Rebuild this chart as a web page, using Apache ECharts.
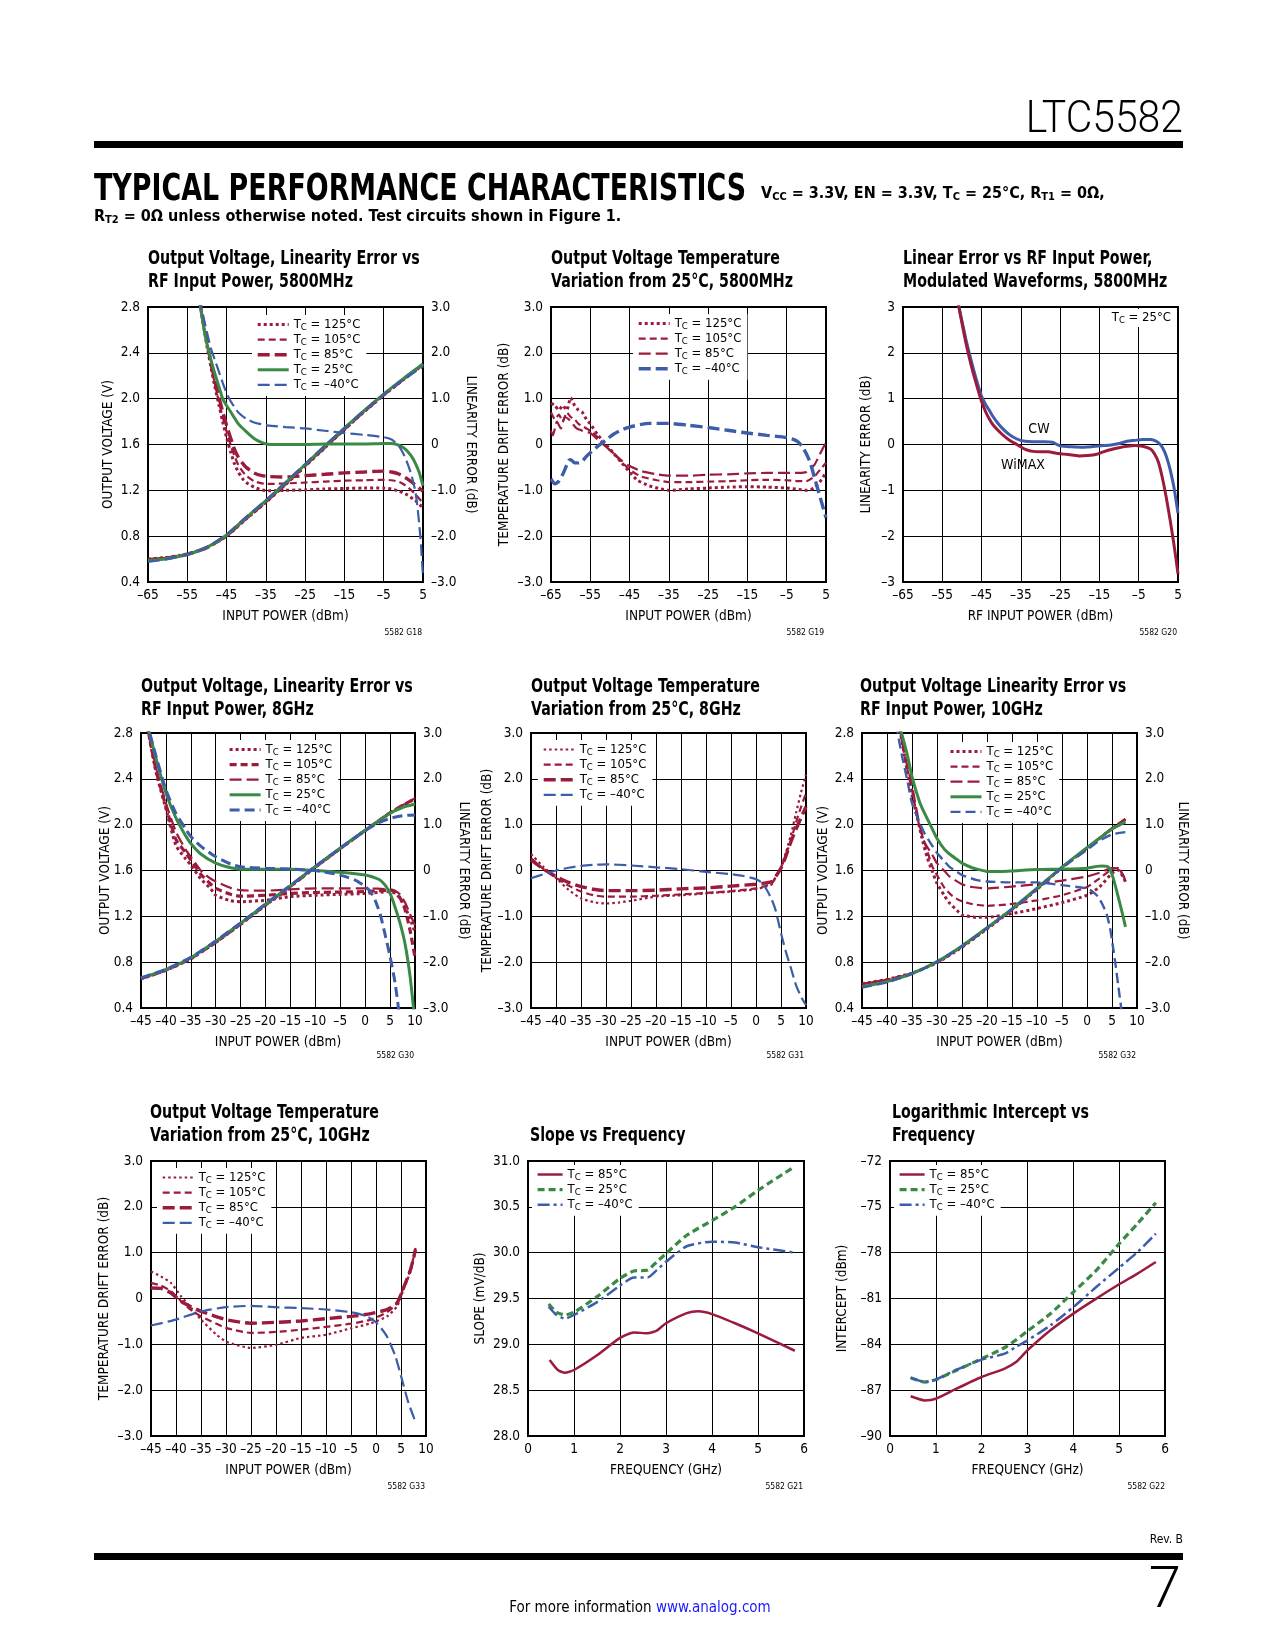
<!DOCTYPE html>
<html><head><meta charset="utf-8">
<script src="https://cdn.jsdelivr.net/npm/echarts@6/dist/echarts.min.js"></script>
<style>html,body{margin:0;padding:0;background:#fff}#page{width:1275px;height:1650px}</style>
</head><body><div id="page"></div>
<script>
// ---------------- DATA ----------------
// Chart 1: 5800MHz output voltage (left axis) and linearity error (right axis)
const c1_vx = [-65,-60,-55,-50,-45,-40,-35,-30,-25,-20,-15,-10,-5,0,5];
const c1_v125 = [0.600,0.615,0.645,0.700,0.800,0.950,1.095,1.250,1.410,1.570,1.730,1.885,2.030,2.165,2.295];
const c1_v105 = [0.598,0.613,0.643,0.700,0.802,0.953,1.098,1.254,1.414,1.574,1.733,1.888,2.033,2.168,2.298];
const c1_v85  = [0.595,0.610,0.642,0.700,0.805,0.956,1.102,1.258,1.418,1.578,1.736,1.890,2.036,2.170,2.300];
const c1_v25  = [0.585,0.605,0.640,0.702,0.810,0.962,1.110,1.265,1.425,1.585,1.742,1.895,2.040,2.175,2.302];
const c1_vm40 = [0.575,0.600,0.640,0.705,0.815,0.968,1.115,1.270,1.430,1.590,1.745,1.895,2.035,2.165,2.280];
const c1_e125 = [[-52,3.2],[-50,2.15],[-49,1.7],[-48,1.27],[-47,0.88],[-46,0.5],[-45,0.15],[-44,-0.15],[-43,-0.42],[-42,-0.6],[-41,-0.74],[-40,-0.83],[-38,-0.93],[-36,-0.99],[-34,-1.01],[-30,-1.0],[-25,-0.99],[-20,-0.97],[-15,-0.96],[-10,-0.95],[-5,-0.95],[-3,-0.97],[-1,-1.02],[1,-1.1],[3,-1.22],[5,-1.38]];
const c1_e105 = [[-52,3.2],[-50,2.2],[-49,1.75],[-48,1.33],[-47,0.95],[-46,0.6],[-45,0.28],[-44,0.0],[-43,-0.25],[-42,-0.45],[-41,-0.58],[-40,-0.68],[-38,-0.8],[-36,-0.85],[-34,-0.86],[-30,-0.85],[-25,-0.83],[-20,-0.81],[-15,-0.79],[-10,-0.78],[-5,-0.77],[-3,-0.78],[-1,-0.82],[1,-0.92],[3,-1.08],[5,-1.28]];
const c1_e85  = [[-52,3.2],[-50,2.25],[-49,1.8],[-48,1.4],[-47,1.05],[-46,0.72],[-45,0.42],[-44,0.15],[-43,-0.1],[-42,-0.28],[-41,-0.4],[-40,-0.5],[-38,-0.62],[-36,-0.68],[-34,-0.7],[-31,-0.71],[-28,-0.7],[-25,-0.68],[-20,-0.65],[-15,-0.62],[-10,-0.6],[-5,-0.58],[-3,-0.6],[-1,-0.65],[1,-0.75],[3,-0.88],[5,-1.02]];
const c1_e25  = [[-52,3.2],[-50.5,2.4],[-49,1.85],[-48,1.55],[-47,1.28],[-46,1.0],[-45,0.85],[-44,0.72],[-43,0.58],[-42,0.45],[-40,0.28],[-38,0.13],[-36,0.04],[-34,0.0],[-30,0.0],[-25,0.0],[-20,0.01],[-15,0.01],[-10,0.01],[-5,0.02],[-3,0.02],[-1,-0.02],[0.5,-0.1],[2,-0.25],[3,-0.4],[4,-0.6],[5,-0.9]];
const c1_em40 = [[-52,3.2],[-50,2.45],[-49,2.1],[-48,1.85],[-47,1.6],[-46,1.35],[-45,1.12],[-44,0.95],[-43,0.82],[-42,0.7],[-40,0.56],[-38,0.48],[-36,0.44],[-34,0.41],[-30,0.38],[-25,0.35],[-20,0.3],[-15,0.25],[-10,0.21],[-5,0.16],[-3,0.11],[-2,0.04],[-1,-0.05],[0,-0.2],[1,-0.4],[2,-0.65],[3,-1.0],[3.5,-1.3],[4,-1.7],[4.5,-2.2],[5,-2.9]];

// Chart 2: temperature drift, 5800MHz
const c2_125 = [[-65,0.9],[-64,0.85],[-63,0.75],[-62,0.85],[-61,0.75],[-60,1.02],[-59,0.85],[-58,0.75],[-57,0.7],[-56,0.55],[-55,0.45],[-53,0.2],[-51,0.0],[-49,-0.2],[-47,-0.4],[-45,-0.6],[-43,-0.78],[-40,-0.9],[-37,-0.97],[-35,-1.0],[-30,-0.97],[-25,-0.95],[-20,-0.93],[-15,-0.92],[-10,-0.93],[-5,-0.95],[-2,-0.98],[0,-1.0],[2,-0.95],[4,-0.75],[5,-0.6]];
const c2_105 = [[-65,0.7],[-64,0.55],[-63,0.65],[-62,0.5],[-61,0.7],[-60,0.6],[-59,0.55],[-58,0.45],[-57,0.4],[-55,0.3],[-53,0.15],[-51,-0.05],[-49,-0.2],[-47,-0.38],[-45,-0.55],[-42,-0.7],[-38,-0.78],[-35,-0.82],[-30,-0.82],[-25,-0.81],[-20,-0.8],[-15,-0.78],[-10,-0.77],[-5,-0.78],[-2,-0.8],[0,-0.8],[2,-0.7],[4,-0.5],[5,-0.4]];
const c2_85 = [[-65,0.3],[-64.5,0.2],[-63.5,0.5],[-62.5,0.35],[-61.5,0.6],[-60.5,0.55],[-59.5,0.45],[-58.5,0.35],[-57,0.3],[-55,0.25],[-53,0.1],[-51,-0.05],[-49,-0.2],[-47,-0.35],[-45,-0.47],[-42,-0.58],[-38,-0.65],[-35,-0.68],[-30,-0.68],[-25,-0.66],[-20,-0.65],[-15,-0.63],[-10,-0.62],[-5,-0.62],[-2,-0.62],[0,-0.6],[2,-0.45],[3.5,-0.2],[5,0.05]];
const c2_m40 = [[-65,-0.75],[-64,-0.86],[-63,-0.8],[-62,-0.65],[-61,-0.45],[-60.5,-0.35],[-60,-0.33],[-59,-0.4],[-58,-0.4],[-57,-0.36],[-56,-0.26],[-55,-0.18],[-53,-0.03],[-51,0.1],[-49,0.23],[-47,0.32],[-45,0.38],[-42,0.44],[-40,0.46],[-35,0.46],[-30,0.42],[-25,0.37],[-20,0.31],[-15,0.25],[-10,0.2],[-5,0.15],[-3,0.1],[-2,0.05],[-1,-0.05],[0,-0.2],[1,-0.4],[2,-0.7],[3,-1.0],[4,-1.3],[5,-1.6]];

// Chart 3: linearity error, modulated waveforms
const c3_cw = [[-51,3.1],[-50,2.7],[-49,2.3],[-48,1.95],[-47,1.62],[-46,1.32],[-45,1.05],[-44,0.88],[-43,0.74],[-42,0.6],[-41,0.48],[-40,0.38],[-38,0.22],[-36,0.12],[-34,0.07],[-32,0.06],[-29,0.06],[-27,0.05],[-25,-0.03],[-22,-0.05],[-19,-0.06],[-17,-0.05],[-15,-0.03],[-12,-0.01],[-10,0.02],[-8,0.07],[-6,0.09],[-4,0.11],[-2,0.11],[-1,0.09],[0,0.04],[1,-0.06],[2,-0.25],[3,-0.55],[4,-0.95],[5,-1.5]];
const c3_wimax = [[-51,3.1],[-50,2.65],[-49,2.22],[-48,1.85],[-47,1.52],[-46,1.22],[-45,0.94],[-44,0.72],[-43,0.55],[-42,0.42],[-40,0.24],[-38,0.1],[-36,0.0],[-34,-0.1],[-32,-0.15],[-30,-0.16],[-28,-0.16],[-26,-0.19],[-24,-0.21],[-22,-0.23],[-20,-0.25],[-18,-0.24],[-16,-0.22],[-14,-0.16],[-12,-0.11],[-10,-0.07],[-8,-0.04],[-6,-0.02],[-4,-0.04],[-2,-0.1],[-1,-0.2],[0,-0.38],[1,-0.72],[2,-1.15],[3,-1.65],[4,-2.2],[5,-2.82]];

// Chart 4: 8GHz output voltage and linearity error
const c4_vx = [-45,-40,-35,-30,-25,-20,-15,-10,-5,0,2.5,5,7.5,10];
const c4_v125 = [0.655,0.728,0.830,0.972,1.130,1.296,1.460,1.628,1.790,1.948,2.025,2.100,2.165,2.225];
const c4_v105 = [0.657,0.730,0.832,0.975,1.133,1.299,1.463,1.630,1.792,1.950,2.027,2.103,2.168,2.228];
const c4_v85  = [0.658,0.732,0.834,0.977,1.136,1.302,1.466,1.633,1.795,1.953,2.030,2.106,2.170,2.232];
const c4_v25  = [0.660,0.735,0.838,0.982,1.140,1.305,1.468,1.635,1.796,1.952,2.028,2.100,2.150,2.180];
const c4_vm40 = [0.662,0.738,0.842,0.985,1.143,1.308,1.470,1.635,1.794,1.948,2.012,2.055,2.078,2.085];
const c4_e125 = [[-44,3.3],[-42,2.15],[-40,1.35],[-38,0.55],[-36,0.25],[-35,0.12],[-33,-0.18],[-31,-0.4],[-30,-0.54],[-27,-0.66],[-25,-0.68],[-20,-0.65],[-15,-0.57],[-10,-0.54],[-5,-0.52],[0,-0.5],[5,-0.46],[6,-0.5],[7,-0.6],[8,-0.8],[9,-1.05],[10,-1.35]];
const c4_e105 = [[-44,3.3],[-42,2.2],[-40,1.4],[-38,0.68],[-36,0.38],[-35,0.23],[-33,-0.08],[-31,-0.3],[-30,-0.39],[-27,-0.52],[-25,-0.56],[-20,-0.54],[-15,-0.5],[-10,-0.48],[-5,-0.47],[0,-0.46],[5,-0.43],[6,-0.47],[7,-0.6],[8,-0.85],[9,-1.3],[10,-1.9]];
const c4_e85  = [[-44,3.3],[-42,2.25],[-40,1.47],[-38,0.85],[-36,0.45],[-35,0.3],[-33,0.0],[-31,-0.18],[-30,-0.24],[-27,-0.38],[-25,-0.43],[-20,-0.44],[-15,-0.41],[-10,-0.39],[-5,-0.39],[0,-0.39],[5,-0.41],[6,-0.44],[7,-0.52],[8,-0.7],[9,-0.95],[10,-1.2]];
const c4_e25  = [[-44,3.3],[-42,2.45],[-40,1.69],[-38,1.15],[-36,0.75],[-35,0.59],[-33,0.36],[-30,0.16],[-27,0.06],[-25,0.03],[-20,0.03],[-15,0.03],[-10,0.0],[-5,-0.04],[0,-0.1],[2,-0.16],[3,-0.21],[4,-0.32],[5,-0.5],[6,-0.8],[7,-1.15],[8,-1.6],[9,-2.3],[9.8,-3.1]];
const c4_em40 = [[-44,3.3],[-42,2.5],[-40,1.76],[-38,1.25],[-36,0.9],[-35,0.74],[-33,0.53],[-30,0.3],[-27,0.14],[-25,0.08],[-20,0.05],[-15,0.03],[-10,0.0],[-5,-0.1],[-2,-0.21],[0,-0.35],[1,-0.45],[2,-0.65],[3,-0.95],[4,-1.4],[5,-1.88],[6,-2.45],[6.8,-3.1]];

// Chart 5: temperature drift, 8GHz
const c5_125 = [[-45,0.36],[-42.5,0.08],[-40,-0.16],[-37.5,-0.42],[-35,-0.61],[-32.5,-0.69],[-30,-0.72],[-27.5,-0.7],[-25,-0.66],[-20,-0.57],[-15,-0.54],[-10,-0.5],[-5,-0.46],[0,-0.41],[2,-0.35],[3.2,-0.3],[4,-0.12],[5,0.07],[6,0.4],[6.9,0.74],[8,1.25],[9,1.7],[10,2.09]];
const c5_105 = [[-45,0.27],[-42.5,0.03],[-40,-0.16],[-37.5,-0.33],[-35,-0.46],[-32.5,-0.54],[-30,-0.57],[-25,-0.57],[-20,-0.55],[-15,-0.52],[-10,-0.49],[-5,-0.45],[0,-0.39],[2,-0.33],[3.2,-0.28],[4,-0.13],[5,0.05],[6,0.35],[6.9,0.63],[8,1.05],[9,1.38],[10,1.69]];
const c5_85 = [[-45,0.23],[-42.5,0.03],[-40,-0.13],[-37.5,-0.26],[-35,-0.35],[-32.5,-0.41],[-30,-0.44],[-25,-0.44],[-20,-0.43],[-15,-0.4],[-10,-0.38],[-5,-0.34],[0,-0.3],[2,-0.27],[3.2,-0.24],[4,-0.12],[5,0.05],[6,0.32],[6.9,0.6],[8,0.9],[9,1.15],[10,1.39]];
const c5_m40 = [[-45,-0.17],[-42.5,-0.08],[-40,0.0],[-37.5,0.06],[-35,0.1],[-32.5,0.125],[-30,0.135],[-25,0.11],[-20,0.07],[-15,0.03],[-10,-0.03],[-5,-0.08],[-2.5,-0.12],[0,-0.19],[1.2,-0.27],[2.2,-0.43],[3.1,-0.62],[3.9,-0.86],[5,-1.37],[6,-1.78],[6.9,-2.1],[8,-2.5],[9,-2.75],[10,-2.94]];

// Chart 6: 10GHz output voltage and linearity error
const c6_vx = [-45,-40,-35,-30,-25,-20,-15,-10,-5,0,2.5,5,7.7];
const c6_v125 = [0.612,0.650,0.705,0.795,0.930,1.090,1.255,1.435,1.625,1.795,1.880,1.965,2.045];
const c6_v105 = [0.610,0.648,0.704,0.797,0.933,1.093,1.258,1.438,1.627,1.797,1.882,1.967,2.048];
const c6_v85  = [0.608,0.646,0.703,0.799,0.936,1.096,1.261,1.441,1.629,1.799,1.884,1.969,2.050];
const c6_v25  = [0.585,0.630,0.700,0.805,0.942,1.100,1.265,1.445,1.630,1.800,1.882,1.962,2.025];
const c6_vm40 = [0.578,0.625,0.697,0.803,0.940,1.098,1.262,1.440,1.622,1.780,1.860,1.915,1.935];
const c6_e125 = [[-37.6,3.2],[-36.5,2.5],[-35,1.65],[-34,1.18],[-33,0.7],[-32,0.3],[-31,0.0],[-30,-0.28],[-28.5,-0.55],[-27.5,-0.71],[-26,-0.87],[-25,-0.97],[-22,-1.02],[-20,-1.02],[-15,-0.94],[-10,-0.83],[-5,-0.7],[0,-0.54],[2.5,-0.36],[5,-0.06],[6.2,0.01],[7.2,-0.13],[7.7,-0.25]];
const c6_e105 = [[-37.6,3.2],[-36.5,2.5],[-35,1.75],[-33.5,0.95],[-32,0.45],[-31,0.1],[-30,-0.1],[-28.5,-0.38],[-27,-0.55],[-25.5,-0.65],[-23,-0.73],[-20,-0.77],[-15,-0.73],[-10,-0.65],[-5,-0.54],[0,-0.36],[2.5,-0.17],[5,0.03],[6.2,0.05],[7.2,-0.1],[7.7,-0.22]];
const c6_e85  = [[-37.6,3.2],[-36.5,2.55],[-35,1.85],[-33.5,1.0],[-32.5,0.62],[-31,0.35],[-30,0.16],[-28.5,-0.01],[-27.5,-0.13],[-25,-0.3],[-23,-0.36],[-20,-0.39],[-15,-0.35],[-10,-0.3],[-5,-0.22],[0,-0.13],[2.5,-0.05],[5,0.05],[6.2,0.05],[7.2,-0.1],[7.7,-0.24]];
const c6_e25  = [[-37.6,3.2],[-36,2.55],[-35,2.05],[-33.5,1.5],[-32.5,1.25],[-31,0.92],[-30,0.7],[-28.5,0.46],[-27.5,0.36],[-26,0.24],[-25,0.16],[-23,0.06],[-22,0.03],[-20,-0.02],[-17,-0.02],[-15,-0.01],[-10,0.02],[-5,0.03],[0,0.05],[2,0.09],[3,0.1],[4,0.09],[4.5,0.05],[5.2,-0.15],[5.9,-0.43],[6.9,-0.86],[7.7,-1.23]];
const c6_em40 = [[-38.2,3.2],[-37,2.5],[-36,2.0],[-35,1.47],[-34,1.18],[-32.5,0.81],[-31,0.55],[-30,0.38],[-28.5,0.2],[-27.5,0.08],[-26,-0.03],[-25,-0.1],[-22,-0.21],[-20,-0.24],[-15,-0.26],[-10,-0.26],[-5,-0.32],[0,-0.39],[1,-0.45],[2.2,-0.57],[3,-0.72],[3.9,-0.94],[4.6,-1.25],[5.2,-1.67],[5.7,-2.05],[6.2,-2.47],[6.9,-3.05]];

// Chart 7: temperature drift, 10GHz
const c7_125 = [[-45,0.59],[-43,0.48],[-41,0.34],[-39,0.05],[-37,-0.2],[-35,-0.46],[-32,-0.78],[-30,-0.94],[-25,-1.08],[-20,-1.01],[-15,-0.86],[-10,-0.79],[-5,-0.65],[-1,-0.54],[2.2,-0.39],[4.2,-0.17],[5.5,0.19],[6.9,0.59],[7.9,1.03]];
const c7_105 = [[-45,0.34],[-43,0.28],[-41,0.16],[-39,-0.06],[-37,-0.25],[-35,-0.39],[-30,-0.64],[-25,-0.75],[-20,-0.73],[-15,-0.68],[-10,-0.62],[-5,-0.55],[-1,-0.46],[2.2,-0.3],[4.2,-0.1],[5.5,0.23],[6.9,0.63],[7.9,1.1]];
const c7_85 = [[-45,0.23],[-43,0.22],[-41,0.12],[-39,-0.06],[-37,-0.18],[-35,-0.28],[-30,-0.46],[-25,-0.54],[-20,-0.52],[-15,-0.49],[-10,-0.44],[-5,-0.39],[-1,-0.33],[2.2,-0.24],[4.2,-0.1],[5.5,0.23],[6.9,0.63],[7.9,1.07]];
const c7_m40 = [[-45,-0.59],[-40,-0.46],[-35,-0.28],[-30,-0.19],[-25,-0.16],[-20,-0.19],[-15,-0.21],[-10,-0.24],[-5,-0.3],[-1.8,-0.39],[0.2,-0.54],[2.2,-0.83],[3.9,-1.27],[5.2,-1.77],[6.5,-2.28],[7.9,-2.69]];

// Chart 8: slope vs frequency
const c8_85 = [[0.47,28.83],[0.65,28.72],[0.8,28.69],[1.0,28.72],[1.5,28.88],[2.0,29.07],[2.3,29.13],[2.6,29.12],[2.8,29.15],[3.0,29.23],[3.45,29.34],[3.7,29.36],[4.0,29.33],[4.5,29.23],[5.0,29.12],[5.8,28.93]];
const c8_25 = [[0.45,29.44],[0.62,29.35],[0.8,29.32],[1.0,29.35],[1.5,29.52],[2.0,29.72],[2.3,29.8],[2.6,29.81],[2.8,29.9],[3.0,29.99],[3.45,30.19],[4.0,30.35],[4.5,30.5],[5.0,30.68],[5.8,30.94]];
const c8_m40 = [[0.45,29.41],[0.62,29.32],[0.8,29.28],[1.0,29.32],[1.5,29.46],[2.0,29.64],[2.3,29.73],[2.6,29.73],[2.8,29.81],[3.0,29.9],[3.45,30.07],[4.0,30.12],[4.5,30.11],[5.0,30.06],[5.8,30.0]];

// Chart 9: logarithmic intercept vs frequency
const c9_85 = [[0.45,-87.4],[0.76,-87.67],[1.0,-87.56],[1.45,-86.9],[2.0,-86.14],[2.5,-85.59],[2.75,-85.16],[3.0,-84.39],[3.5,-83.08],[4.0,-81.99],[4.5,-81.01],[5.0,-80.07],[5.4,-79.37],[5.8,-78.61]];
const c9_25 = [[0.45,-86.18],[0.76,-86.47],[1.0,-86.31],[1.45,-85.7],[2.0,-84.94],[2.55,-84.13],[3.0,-83.13],[3.5,-82.0],[4.0,-80.58],[4.5,-79.16],[5.0,-77.41],[5.4,-76.1],[5.8,-74.73]];
const c9_m40 = [[0.45,-86.18],[0.76,-86.47],[1.0,-86.31],[1.45,-85.66],[2.0,-85.0],[2.5,-84.61],[2.75,-84.17],[3.0,-83.74],[3.5,-82.76],[4.0,-81.56],[4.5,-80.25],[5.0,-78.98],[5.4,-77.96],[5.8,-76.76]];

// Axis specs [min, max, interval]
const X_C1 = [-65,5,10], X_C4 = [-45,10,5], X_F = [0,6,1];
const Y_V = [0.4,2.8,0.4], Y_DB = [-3,3,1], Y_SLOPE = [28,31,0.5], Y_INT = [-90,-72,3];

// ---------------- RENDER ----------------
const RED='#9b1b3c', GREEN='#3a8a46', BLUE='#3d5ca9';
const NARROW="'Liberation Sans Narrow','DejaVu Sans Condensed','Arial Narrow',sans-serif";
const MINUS='\u2013';
function fmt(dec){return function(v){if(Math.abs(v)<1e-9)return '0';return (v<0?MINUS:'')+Math.abs(v).toFixed(dec);};}
function zip(xs,ys){return xs.map((x,i)=>[x,ys[i]]);}
const RICH = {
  n:{fontFamily:NARROW,fontSize:13,lineHeight:16,color:'#000'},
  s:{fontFamily:NARROW,fontSize:9.5,lineHeight:7,verticalAlign:'bottom',color:'#000'}
};
function tc(t){return '{n|T}{s|C}{n| = '+t+'}';}
const ST = {
  dot3:{type:[3,3],width:3}, dot2:{type:[2.5,3],width:2.2},
  dash:{type:[7,4],width:2.2}, dashH:{type:[7,4],width:3.2},
  long:{type:[12,5],width:2.2}, longH:{type:[12,5],width:3.4},
  solid:{type:'solid',width:3}, solid2:{type:'solid',width:2.5},
  dashdot:{type:[12,4,3,4],width:2.5}
};

const grids = [
  [148,307,275,275],[551,307,275,275],[903,307,275,275],
  [141,733,274,275],[531,733,275,275],[862,733,275,275],
  [151,1161,275,275],[528,1161,276,275],[890,1161,275,275]
];
const CFG = [
 {x:X_C1,xn:'INPUT POWER (dBm)', yl:Y_V,ld:1,ln:'OUTPUT VOLTAGE (V)',lg:33, yr:Y_DB,rd:1,rn:'LINEARITY ERROR (dB)',rg:40},
 {x:X_C1,xn:'INPUT POWER (dBm)', yl:Y_DB,ld:1,ln:'TEMPERATURE DRIFT ERROR (dB)',lg:40},
 {x:X_C1,xn:'RF INPUT POWER (dBm)', yl:Y_DB,ld:0,ln:'LINEARITY ERROR (dB)',lg:30},
 {x:X_C4,xn:'INPUT POWER (dBm)', yl:Y_V,ld:1,ln:'OUTPUT VOLTAGE (V)',lg:29, yr:Y_DB,rd:1,rn:'LINEARITY ERROR (dB)',rg:41},
 {x:X_C4,xn:'INPUT POWER (dBm)', yl:Y_DB,ld:1,ln:'TEMPERATURE DRIFT ERROR (dB)',lg:37},
 {x:X_C4,xn:'INPUT POWER (dBm)', yl:Y_V,ld:1,ln:'OUTPUT VOLTAGE (V)',lg:32, yr:Y_DB,rd:1,rn:'LINEARITY ERROR (dB)',rg:38},
 {x:X_C4,xn:'INPUT POWER (dBm)', yl:Y_DB,ld:1,ln:'TEMPERATURE DRIFT ERROR (dB)',lg:40},
 {x:X_F,xn:'FREQUENCY (GHz)', yl:Y_SLOPE,ld:1,ln:'SLOPE (mV/dB)',lg:41},
 {x:X_F,xn:'FREQUENCY (GHz)', yl:Y_INT,ld:0,ln:'INTERCEPT (dBm)',lg:41}
];
const LBL = {fontFamily:NARROW,fontSize:13.5,color:'#000'};
const option = {animation:false,backgroundColor:'#fff',grid:[],xAxis:[],yAxis:[],series:[],legend:[],graphic:[]};
const yIdx = [];
CFG.forEach((c,i)=>{
  const g = grids[i];
  option.grid.push({left:g[0],top:g[1],width:g[2],height:g[3],show:true,borderColor:'#000',borderWidth:2,backgroundColor:'rgba(0,0,0,0)',containLabel:false,outerBoundsMode:'none'});
  option.xAxis.push({type:'value',gridIndex:i,min:c.x[0],max:c.x[1],interval:c.x[2],name:c.xn,nameLocation:'middle',nameGap:27,nameMoveOverlap:false,
    nameTextStyle:LBL,axisLine:{show:false},axisTick:{show:false},
    splitLine:{show:true,lineStyle:{color:'#000',width:1}},
    axisLabel:Object.assign({margin:6,formatter:fmt(0),hideOverlap:false,showMinLabel:true,showMaxLabel:true},LBL)});
  const L = option.yAxis.length;
  option.yAxis.push({type:'value',gridIndex:i,position:'left',min:c.yl[0],max:c.yl[1],interval:c.yl[2],name:c.ln,nameLocation:'middle',nameGap:c.lg,nameRotate:90,nameMoveOverlap:false,
    nameTextStyle:LBL,axisLine:{show:false},axisTick:{show:false},
    splitLine:{show:true,lineStyle:{color:'#000',width:1}},
    axisLabel:Object.assign({margin:8,formatter:fmt(c.ld),hideOverlap:false,showMinLabel:true,showMaxLabel:true},LBL)});
  let R = L;
  if (c.yr){
    R = option.yAxis.length;
    option.yAxis.push({type:'value',gridIndex:i,position:'right',min:c.yr[0],max:c.yr[1],interval:c.yr[2],name:c.rn,nameLocation:'middle',nameGap:c.rg,nameRotate:-90,nameMoveOverlap:false,
      nameTextStyle:LBL,axisLine:{show:false},axisTick:{show:false},splitLine:{show:false},
      axisLabel:Object.assign({margin:8,formatter:fmt(c.rd),hideOverlap:false,showMinLabel:true,showMaxLabel:true},LBL)});
  }
  yIdx.push({L:L,R:R});
});
function ser(gi,name,data,color,st,side){
  option.series.push({type:'line',name:name,xAxisIndex:gi,yAxisIndex:yIdx[gi][side||'L'],data:data,symbol:'none',showSymbol:false,smooth:0.2,
    lineStyle:{color:color,width:st.width,type:st.type,cap:'butt'},itemStyle:{color:color},z:3,silent:true,animation:false});
}
function leg(items,left,top,iw){
  option.legend.push({orient:'vertical',left:left,top:top,itemWidth:iw,itemHeight:10,itemGap:0.6,padding:[3,6,3,4],backgroundColor:'#fff',
    selectedMode:false,z:10,itemStyle:{opacity:0},
    data:items.map(it=>({name:it[0],itemStyle:{opacity:0},lineStyle:{color:it[2],width:it[3].width,type:it[3].type,cap:'butt',opacity:1}})),
    formatter:function(n){const it=items.find(x=>x[0]===n);return it?it[1]:n;},
    textStyle:{fontFamily:NARROW,fontSize:13,color:'#000',rich:RICH}});
}

// Chart 1
const c1s = [['c1_125',tc('125°C'),RED,ST.dot3,c1_v125,c1_e125],['c1_105',tc('105°C'),RED,ST.dash,c1_v105,c1_e105],
  ['c1_85',tc('85°C'),RED,ST.longH,c1_v85,c1_e85],['c1_25',tc('25°C'),GREEN,ST.solid,c1_v25,c1_e25],['c1_m40',tc(MINUS+'40°C'),BLUE,ST.long,c1_vm40,c1_em40]];
c1s.forEach(s=>{ser(0,s[0]+'v',zip(c1_vx,s[4]),s[2],s[3],'L');ser(0,s[0],s[5],s[2],s[3],'R');});
leg(c1s,252,315,31);
// Chart 2
const c2s = [['c2_125',tc('125°C'),RED,ST.dot3,c2_125],['c2_105',tc('105°C'),RED,ST.dash,c2_105],['c2_85',tc('85°C'),RED,ST.long,c2_85],['c2_m40',tc(MINUS+'40°C'),BLUE,ST.longH,c2_m40]];
c2s.forEach(s=>ser(1,s[0],s[4],s[2],s[3],'L'));
leg(c2s,633,314,31);
// Chart 3
ser(2,'c3_cw',c3_cw,BLUE,ST.solid,'L');
ser(2,'c3_wimax',c3_wimax,RED,ST.solid,'L');
// Chart 4
const c4s = [['c4_125',tc('125°C'),RED,ST.dot3,c4_v125,c4_e125],['c4_105',tc('105°C'),RED,ST.dashH,c4_v105,c4_e105],
  ['c4_85',tc('85°C'),RED,ST.long,c4_v85,c4_e85],['c4_25',tc('25°C'),GREEN,ST.solid,c4_v25,c4_e25],['c4_m40',tc(MINUS+'40°C'),BLUE,{type:[10,5],width:3},c4_vm40,c4_em40]];
c4s.forEach(s=>{ser(3,s[0]+'v',zip(c4_vx,s[4]),s[2],s[3],'L');ser(3,s[0],s[5],s[2],s[3],'R');});
leg(c4s,224,740,31);
// Chart 5
const c5s = [['c5_125',tc('125°C'),RED,ST.dot2,c5_125],['c5_105',tc('105°C'),RED,ST.dash,c5_105],['c5_85',tc('85°C'),RED,ST.longH,c5_85],['c5_m40',tc(MINUS+'40°C'),BLUE,ST.long,c5_m40]];
c5s.forEach(s=>ser(4,s[0],s[4],s[2],s[3],'L'));
leg(c5s,538,740,31);
// Chart 6
const c6s = [['c6_125',tc('125°C'),RED,ST.dot3,c6_v125,c6_e125],['c6_105',tc('105°C'),RED,ST.dash,c6_v105,c6_e105],
  ['c6_85',tc('85°C'),RED,ST.long,c6_v85,c6_e85],['c6_25',tc('25°C'),GREEN,ST.solid,c6_v25,c6_e25],['c6_m40',tc(MINUS+'40°C'),BLUE,{type:[10,5],width:2.4},c6_vm40,c6_em40]];
c6s.forEach(s=>{ser(5,s[0]+'v',zip(c6_vx,s[4]),s[2],s[3],'L');ser(5,s[0],s[5],s[2],s[3],'R');});
leg(c6s,945,742,31);
// Chart 7
const c7s = [['c7_125',tc('125°C'),RED,ST.dot2,c7_125],['c7_105',tc('105°C'),RED,ST.dash,c7_105],['c7_85',tc('85°C'),RED,ST.longH,c7_85],['c7_m40',tc(MINUS+'40°C'),BLUE,ST.long,c7_m40]];
c7s.forEach(s=>ser(6,s[0],s[4],s[2],s[3],'L'));
leg(c7s,157,1168,31);
// Chart 8
const c8s = [['c8_85',tc('85°C'),RED,ST.solid2,c8_85],['c8_25',tc('25°C'),GREEN,ST.dashH,c8_25],['c8_m40',tc(MINUS+'40°C'),BLUE,ST.dashdot,c8_m40]];
c8s.forEach(s=>ser(7,s[0],s[4],s[2],s[3],'L'));
leg(c8s,532,1165,25);
// Chart 9
const c9s = [['c9_85',tc('85°C'),RED,ST.solid2,c9_85],['c9_25',tc('25°C'),GREEN,ST.dashH,c9_25],['c9_m40',tc(MINUS+'40°C'),BLUE,ST.dashdot,c9_m40]];
c9s.forEach(s=>ser(8,s[0],s[4],s[2],s[3],'L'));
leg(c9s,894,1165,25);

// ---------------- PAGE TEXT ----------------
function T(x,y,text,st,extra){
  const style = Object.assign({text:text,fill:'#000',fontFamily:NARROW,fontSize:15,align:'left',textAlign:'left',verticalAlign:'middle',textVerticalAlign:'middle'},st||{});
  return Object.assign({type:'text',x:x,y:y,silent:true,z:20,style:style},extra||{});
}
const G = option.graphic;
G.push(T(1183,121,'LTC5582',{fontFamily:"Roboto",fontWeight:300,fontSize:44,align:'right',textAlign:'right'},{scaleX:0.93}));
G.push({type:'rect',silent:true,shape:{x:94,y:141,width:1089,height:7},style:{fill:'#000'}});
G.push(T(94,190,'TYPICAL PERFORMANCE CHARACTERISTICS',{fontFamily:"'DejaVu Sans'",fontWeight:'bold',fontSize:37},{scaleX:0.727}));
const HR = {b:{fontFamily:NARROW,fontWeight:'bold',fontSize:16,lineHeight:18,fill:'#000'},bs:{fontFamily:NARROW,fontWeight:'bold',fontSize:11,lineHeight:8,verticalAlign:'bottom',fill:'#000'}};
G.push(T(761,194,'{b|V}{bs|CC}{b| = 3.3V, EN = 3.3V, T}{bs|C}{b| = 25°C, R}{bs|T1}{b| = 0Ω,}',{rich:HR}));
G.push(T(94,217,'{b|R}{bs|T2}{b| = 0Ω unless otherwise noted. Test circuits shown in Figure 1.}',{rich:HR}));
const TF = {fontWeight:'bold',fontSize:20};
[[148,259,'Output Voltage, Linearity Error vs'],[148,282,'RF Input Power, 5800MHz'],
 [551,259,'Output Voltage Temperature'],[551,282,'Variation from 25°C, 5800MHz'],
 [903,259,'Linear Error vs RF Input Power,'],[903,282,'Modulated Waveforms, 5800MHz'],
 [141,687,'Output Voltage, Linearity Error vs'],[141,710,'RF Input Power, 8GHz'],
 [531,687,'Output Voltage Temperature'],[531,710,'Variation from 25°C, 8GHz'],
 [860,687,'Output Voltage Linearity Error vs'],[860,710,'RF Input Power, 10GHz'],
 [150,1113,'Output Voltage Temperature'],[150,1136,'Variation from 25°C, 10GHz'],
 [530,1136,'Slope vs Frequency'],
 [892,1113,'Logarithmic Intercept vs'],[892,1136,'Frequency']
].forEach(t=>G.push(T(t[0],t[1],t[2],TF,{scaleX:0.79})));
const SM = {fontSize:8.5,align:'right',textAlign:'right'};
[[422,633,'5582 G18'],[824,633,'5582 G19'],[1177,633,'5582 G20'],
 [414,1056,'5582 G30'],[804,1056,'5582 G31'],[1136,1056,'5582 G32'],
 [425,1487,'5582 G33'],[803,1487,'5582 G21'],[1165,1487,'5582 G22']
].forEach(t=>G.push(T(t[0],t[1],t[2],SM)));
// chart 3 annotations
G.push(T(1039,429,'CW',{fontSize:14,align:'center',textAlign:'center'}));
G.push(T(1023,465,'WiMAX',{fontSize:14,align:'center',textAlign:'center'}));
G.push(T(1173,318,'{n|T}{s|C}{n| = 25°C}',{rich:{n:{fontFamily:NARROW,fontSize:13,lineHeight:16,fill:'#000'},s:{fontFamily:NARROW,fontSize:9.5,lineHeight:7,verticalAlign:'bottom',fill:'#000'}},align:'right',textAlign:'right',backgroundColor:'#fff',padding:[1,2,1,3]}));
// footer
G.push(T(1183,1540,'Rev. B',{fontSize:12,align:'right',textAlign:'right'}));
G.push({type:'rect',silent:true,shape:{x:94,y:1553,width:1089,height:7},style:{fill:'#000'}});
G.push(T(1181,1592,'7',{fontFamily:"Roboto",fontWeight:300,fontSize:58,align:'right',textAlign:'right'}));
G.push(T(640,1608,'{k|For more information }{l|www.analog.com}',{align:'center',textAlign:'center',rich:{k:{fontFamily:NARROW,fontSize:15,fill:'#000'},l:{fontFamily:NARROW,fontSize:15,fill:'#1a1aff'}}}));

const chart = echarts.init(document.getElementById('page'),null,{renderer:'canvas',width:1275,height:1650});
chart.setOption(option);
</script></body></html>
